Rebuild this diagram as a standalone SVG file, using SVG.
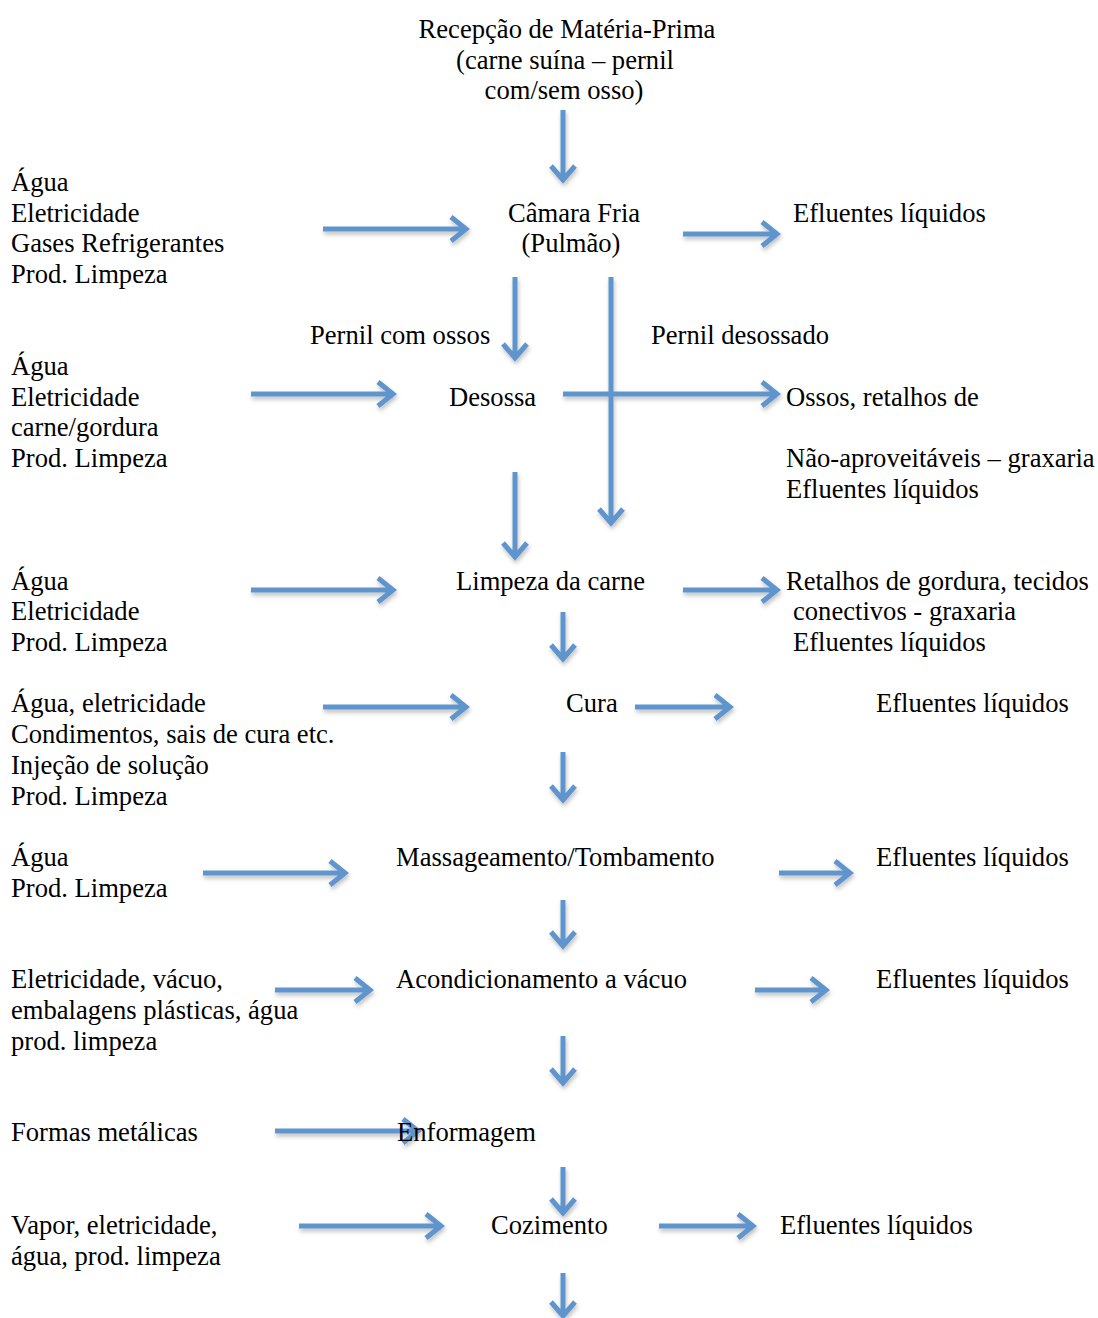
<svg xmlns="http://www.w3.org/2000/svg" width="1098" height="1318" viewBox="0 0 1098 1318">
<defs>
<style>
text{font-family:"Liberation Serif","Times New Roman",serif;font-size:26.6px;fill:#000}
.a{fill:none;stroke:#5f95cc;stroke-width:5;stroke-linejoin:miter}
.c{text-anchor:middle}
</style>
<filter id="sh" x="-10%" y="-10%" width="130%" height="140%"><feDropShadow dx="1" dy="3" stdDeviation="2" flood-color="#000" flood-opacity="0.25"/></filter>
</defs>
<rect width="1098" height="1318" fill="#fff"/>
<g id="connectors" filter="url(#sh)">
<path class="a" d="M563 110V178M551 166L563 180L575 166"/>
<path class="a" d="M323 229H464M451 217L466 229L451 241"/>
<path class="a" d="M683 234H775M762 222L777 234L762 246"/>
<path class="a" d="M515 277V356M503 344L515 358L527 344"/>
<path class="a" d="M611 277V521M599 509L611 523L623 509"/>
<path class="a" d="M251 394H391M378 382L393 394L378 406"/>
<path class="a" d="M563 394H775M762 382L777 394L762 406"/>
<path class="a" d="M515 472V555M503 543L515 557L527 543"/>
<path class="a" d="M251 590H391M378 578L393 590L378 602"/>
<path class="a" d="M683 590H775M762 578L777 590L762 602"/>
<path class="a" d="M563 612V657M551 645L563 659L575 645"/>
<path class="a" d="M323 707H464M451 695L466 707L451 719"/>
<path class="a" d="M635 707H728M715 695L730 707L715 719"/>
<path class="a" d="M563 752V798M551 786L563 800L575 786"/>
<path class="a" d="M203 873H343M330 861L345 873L330 885"/>
<path class="a" d="M779 873H848M835 861L850 873L835 885"/>
<path class="a" d="M563 900V944M551 932L563 946L575 932"/>
<path class="a" d="M275 990H368M355 978L370 990L355 1002"/>
<path class="a" d="M755 990H824M811 978L826 990L811 1002"/>
<path class="a" d="M563 1036V1081M551 1069L563 1083L575 1069"/>
<path class="a" d="M275 1131H416M403 1119L418 1131L403 1143"/>
<path class="a" d="M563 1167V1211M551 1199L563 1213L575 1199"/>
<path class="a" d="M299 1226H439M426 1214L441 1226L426 1238"/>
<path class="a" d="M659 1226H751M738 1214L753 1226L738 1238"/>
<path class="a" d="M563 1273V1314M551 1302L563 1316L575 1302"/>
</g>
<g id="recepcao"><text class="c" x="567" y="38">Recepção de Matéria-Prima</text><text class="c" x="565" y="69">(carne suína – pernil</text><text class="c" x="564" y="99">com/sem osso)</text></g>
<g id="in-camara"><text x="11" y="191">Água</text><text x="11" y="222">Eletricidade</text><text x="11" y="252">Gases Refrigerantes</text><text x="11" y="283">Prod. Limpeza</text></g>
<g id="camara"><text class="c" x="574" y="222">Câmara Fria</text><text class="c" x="571" y="252">(Pulmão)</text></g>
<g id="out-camara"><text x="793" y="222">Efluentes líquidos</text></g>
<g id="label-com-ossos"><text x="310" y="344">Pernil com ossos</text></g>
<g id="label-desossado"><text x="651" y="344">Pernil desossado</text></g>
<g id="in-desossa"><text x="11" y="375">Água</text><text x="11" y="406">Eletricidade</text><text x="11" y="436">carne/gordura</text><text x="11" y="467">Prod. Limpeza</text></g>
<g id="desossa"><text x="449" y="406">Desossa</text></g>
<g id="out-desossa"><text x="786" y="406">Ossos, retalhos de</text><text x="786" y="467">Não-aproveitáveis – graxaria</text><text x="786" y="498">Efluentes líquidos</text></g>
<g id="in-limpeza"><text x="11" y="590">Água</text><text x="11" y="620">Eletricidade</text><text x="11" y="651">Prod. Limpeza</text></g>
<g id="limpeza"><text x="456" y="590">Limpeza da carne</text></g>
<g id="out-limpeza"><text x="786" y="590">Retalhos de gordura, tecidos</text><text x="793" y="620">conectivos - graxaria</text><text x="793" y="651">Efluentes líquidos</text></g>
<g id="in-cura"><text x="11" y="712">Água, eletricidade</text><text x="11" y="743">Condimentos, sais de cura etc.</text><text x="11" y="774">Injeção de solução</text><text x="11" y="805">Prod. Limpeza</text></g>
<g id="cura"><text x="566" y="712">Cura</text></g>
<g id="out-cura"><text x="876" y="712">Efluentes líquidos</text></g>
<g id="in-massag"><text x="11" y="866">Água</text><text x="11" y="897">Prod. Limpeza</text></g>
<g id="massag"><text x="396" y="866">Massageamento/Tombamento</text></g>
<g id="out-massag"><text x="876" y="866">Efluentes líquidos</text></g>
<g id="in-acond"><text x="11" y="988">Eletricidade, vácuo,</text><text x="11" y="1019">embalagens plásticas, água</text><text x="11" y="1050">prod. limpeza</text></g>
<g id="acond"><text x="396" y="988">Acondicionamento a vácuo</text></g>
<g id="out-acond"><text x="876" y="988">Efluentes líquidos</text></g>
<g id="in-enform"><text x="11" y="1141">Formas metálicas</text></g>
<g id="enform"><text x="397" y="1141">Enformagem</text></g>
<g id="in-coz"><text x="11" y="1234">Vapor, eletricidade,</text><text x="11" y="1265">água, prod. limpeza</text></g>
<g id="coz"><text x="491" y="1234">Cozimento</text></g>
<g id="out-coz"><text x="780" y="1234">Efluentes líquidos</text></g>
</svg>
